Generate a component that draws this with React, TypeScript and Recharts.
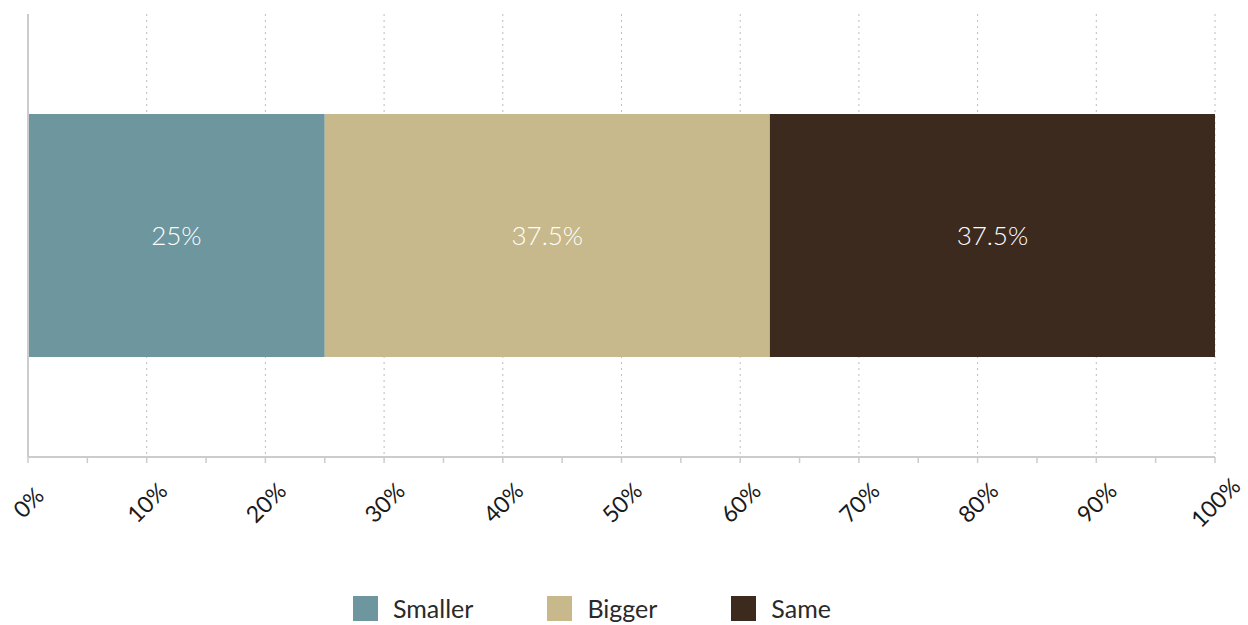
import React from 'react';
import { BarChart, Bar, XAxis, YAxis, CartesianGrid, LabelList, Legend } from 'recharts';

const categories = [''];
const smaller = [25];
const bigger = [37.5];
const same = [37.5];
const axisTicks = [0, 5, 10, 15, 20, 25, 30, 35, 40, 45, 50, 55, 60, 65, 70, 75, 80, 85, 90, 95, 100];
const gridTicks = [10, 20, 30, 40, 50, 60, 70, 80, 90, 100];
const xDomain = [0, 100];
const seriesNames = ['Smaller', 'Bigger', 'Same'];
const seriesKeys = ['smaller', 'bigger', 'same'];
const seriesColors = ['#6d969e', '#c7b98b', '#3c2a1f'];

const data = categories.map((c, i) => ({ name: c, smaller: smaller[i], bigger: bigger[i], same: same[i] }));

const FONT = 'Lato, "Noto Sans", sans-serif';

const Tick = (props: any) => {
  const { x, y, payload } = props;
  const v = payload.value;
  if (v % 10 !== 0) return <g />;
  const cy = y + 37;
  return (
    <text
      x={x}
      y={cy}
      transform={`rotate(-45 ${x} ${cy})`}
      textAnchor="middle"
      dominantBaseline="central"
      fontFamily={FONT}
      fontSize={23}
      fill="#1a1a1a"
    >
      {v}%
    </text>
  );
};

const legendGaps = [74, 74, 0];

const LegendContent = () => (
  <div style={{ display: 'flex', justifyContent: 'flex-start', alignItems: 'center', paddingLeft: 353, fontFamily: FONT, fontSize: 25, color: '#2a2a2a', height: 30 }}>
    {seriesNames.map((n, i) => (
      <div key={n} style={{ display: 'flex', alignItems: 'center', marginRight: legendGaps[i] }}>
        <div style={{ width: 25, height: 25, background: seriesColors[i], marginRight: 15 }} />
        <span>{n}</span>
      </div>
    ))}
  </div>
);

const gridGen = ({ xAxis, offset }: any) => {
  const sc = xAxis && xAxis.scale;
  if (typeof sc === 'function') return gridTicks.map((t) => sc(t));
  if (sc && typeof sc.map === 'function') return gridTicks.map((t) => sc.map(t));
  return gridTicks.map((t) => offset.left + (offset.width * (t - xDomain[0])) / (xDomain[1] - xDomain[0]));
};

export default function App() {
  return (
    <div style={{ position: 'absolute', left: 0, top: 0 }}>
      <BarChart
        width={1248}
        height={625}
        data={data}
        layout="vertical"
        margin={{ top: 14, right: 33, left: 27, bottom: 0 }}
        barSize={243}
      >
        <CartesianGrid
          horizontal={false}
          stroke="#bdbdbd"
          strokeDasharray="2 4"
          verticalCoordinatesGenerator={gridGen}
        />
        <XAxis
          type="number"
          domain={xDomain}
          ticks={axisTicks}
          interval={0}
          axisLine={{ stroke: '#cccccc', strokeWidth: 2 }}
          tickLine={{ stroke: '#cccccc', strokeWidth: 1.5 }}
          tickSize={6}
          height={138}
          tick={<Tick />}
          allowDataOverflow
        />
        <YAxis type="category" dataKey="name" width={1} tick={false} tickLine={false} axisLine={{ stroke: '#cccccc', strokeWidth: 2 }} />
        <Legend verticalAlign="bottom" content={<LegendContent />} wrapperStyle={{ position: 'absolute', top: 593, left: 0, width: 1248, height: 30 }} />
        {seriesKeys.map((k, i) => (
          <Bar key={k} dataKey={k} name={seriesNames[i]} stackId="a" fill={seriesColors[i]} isAnimationActive={false}>
            <LabelList
              dataKey={k}
              position="center"
              formatter={(v: any) => `${v}%`}
              fill="#ffffff"
              fontSize={26}
              fontWeight={300}
              fontFamily={FONT}
            />
          </Bar>
        ))}
      </BarChart>
    </div>
  );
}
